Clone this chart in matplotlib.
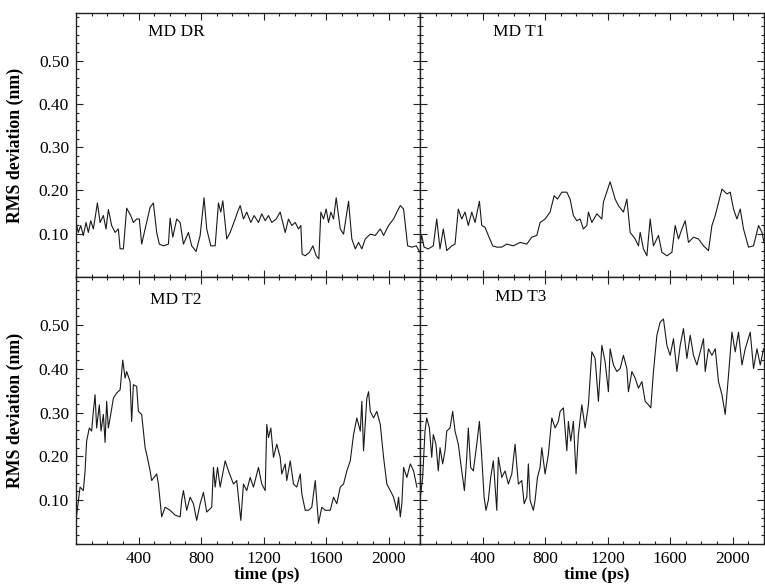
import matplotlib
matplotlib.use("Agg")
import matplotlib.pyplot as plt
from matplotlib.ticker import MultipleLocator, FixedLocator, NullFormatter

plt.rcParams['font.family'] = ['Liberation Serif', 'DejaVu Serif']

# ---------------- data (time in ps, RMS deviation in nm) ----------------
dr_t = [0, 15, 30, 47, 64, 79, 94, 111, 137, 154, 175, 192, 207, 228, 250, 271, 282, 303,
        324, 350, 367, 388, 405, 420, 442, 474, 495, 516, 533, 559, 591, 602, 619, 644, 666,
        687, 719, 740, 768, 794, 819, 836, 862, 890, 911, 926, 939, 964, 986, 1018, 1033,
        1050, 1071, 1092, 1118, 1139, 1167, 1188, 1210, 1231, 1252, 1280, 1306, 1327, 1338,
        1359, 1380, 1402, 1423, 1438, 1446, 1466, 1493, 1515, 1536, 1553, 1566, 1583, 1600,
        1615, 1630, 1647, 1664, 1690, 1711, 1743, 1764, 1786, 1807, 1828, 1850, 1882, 1914,
        1946, 1967, 1999, 2031, 2052, 2074, 2095, 2121, 2148, 2176, 2200]
dr_v = [0.126, 0.103, 0.119, 0.096, 0.126, 0.103, 0.130, 0.111, 0.171, 0.126, 0.142, 0.111,
        0.156, 0.119, 0.103, 0.111, 0.065, 0.065, 0.159, 0.142, 0.126, 0.134, 0.134, 0.076,
        0.111, 0.161, 0.171, 0.103, 0.076, 0.072, 0.076, 0.136, 0.092, 0.134, 0.126, 0.076,
        0.103, 0.072, 0.059, 0.096, 0.183, 0.111, 0.072, 0.072, 0.171, 0.150, 0.176, 0.088,
        0.103, 0.134, 0.150, 0.165, 0.134, 0.150, 0.126, 0.142, 0.126, 0.146, 0.130, 0.142,
        0.126, 0.134, 0.150, 0.119, 0.103, 0.134, 0.119, 0.126, 0.111, 0.119, 0.053, 0.049,
        0.057, 0.072, 0.049, 0.042, 0.150, 0.134, 0.157, 0.126, 0.150, 0.134, 0.183, 0.111,
        0.099, 0.175, 0.088, 0.065, 0.080, 0.065, 0.088, 0.099, 0.096, 0.111, 0.096, 0.119,
        0.134, 0.150, 0.165, 0.157, 0.072, 0.069, 0.072, 0.057]

t1_t = [0, 11, 26, 53, 85, 107, 128, 149, 171, 203, 224, 245, 267, 288, 309, 331, 352, 380,
        395, 416, 437, 465, 491, 523, 555, 597, 640, 683, 715, 747, 768, 800, 832, 858, 879,
        907, 939, 960, 981, 1003, 1024, 1045, 1067, 1077, 1099, 1131, 1163, 1173, 1216, 1248,
        1269, 1301, 1323, 1344, 1376, 1397, 1408, 1429, 1451, 1472, 1493, 1525, 1547, 1579,
        1611, 1632, 1653, 1675, 1696, 1717, 1749, 1781, 1813, 1845, 1867, 1888, 1931, 1963,
        1984, 2005, 2027, 2048, 2069, 2101, 2133, 2165, 2187, 2200]
t1_v = [0.072, 0.096, 0.069, 0.065, 0.072, 0.134, 0.065, 0.111, 0.061, 0.072, 0.076, 0.157,
        0.134, 0.150, 0.119, 0.150, 0.126, 0.175, 0.119, 0.115, 0.096, 0.072, 0.069, 0.069,
        0.076, 0.072, 0.080, 0.076, 0.092, 0.096, 0.126, 0.134, 0.150, 0.188, 0.180, 0.196,
        0.196, 0.180, 0.142, 0.130, 0.134, 0.111, 0.119, 0.150, 0.126, 0.146, 0.134, 0.173,
        0.220, 0.180, 0.165, 0.150, 0.180, 0.103, 0.088, 0.072, 0.103, 0.065, 0.049, 0.134,
        0.072, 0.096, 0.057, 0.049, 0.057, 0.119, 0.088, 0.111, 0.130, 0.080, 0.092, 0.088,
        0.072, 0.061, 0.119, 0.142, 0.203, 0.192, 0.196, 0.157, 0.134, 0.157, 0.111, 0.069,
        0.072, 0.119, 0.103, 0.080]

t2_t = [0, 26, 47, 58, 68, 85, 100, 111, 122, 132, 149, 160, 175, 186, 196, 207, 222, 239,
        260, 282, 299, 314, 324, 346, 356, 367, 388, 399, 420, 442, 452, 474, 484, 516, 527,
        548, 570, 602, 634, 666, 676, 687, 708, 730, 751, 772, 794, 815, 836, 868, 879, 890,
        905, 922, 954, 975, 1007, 1028, 1054, 1071, 1092, 1114, 1135, 1167, 1188, 1210, 1220,
        1231, 1246, 1263, 1284, 1306, 1316, 1338, 1348, 1370, 1391, 1412, 1434, 1444, 1466,
        1487, 1508, 1530, 1551, 1572, 1594, 1626, 1647, 1668, 1690, 1711, 1732, 1754, 1775,
        1796, 1818, 1828, 1839, 1860, 1871, 1882, 1903, 1924, 1946, 1967, 1988, 2010, 2031,
        2052, 2063, 2074, 2084, 2095, 2116, 2138, 2159, 2180]
t2_v = [0.054, 0.130, 0.122, 0.167, 0.235, 0.265, 0.258, 0.303, 0.341, 0.265, 0.318, 0.258,
        0.296, 0.232, 0.326, 0.265, 0.296, 0.333, 0.345, 0.352, 0.420, 0.379, 0.394, 0.371,
        0.280, 0.364, 0.360, 0.303, 0.296, 0.220, 0.205, 0.167, 0.145, 0.160, 0.137, 0.062,
        0.084, 0.077, 0.066, 0.062, 0.100, 0.122, 0.077, 0.107, 0.092, 0.054, 0.092, 0.118,
        0.073, 0.084, 0.175, 0.130, 0.175, 0.130, 0.190, 0.167, 0.137, 0.145, 0.054, 0.137,
        0.122, 0.152, 0.130, 0.175, 0.137, 0.122, 0.273, 0.243, 0.265, 0.198, 0.228, 0.198,
        0.160, 0.183, 0.145, 0.190, 0.137, 0.130, 0.160, 0.115, 0.077, 0.077, 0.084, 0.145,
        0.047, 0.084, 0.077, 0.077, 0.107, 0.092, 0.130, 0.137, 0.167, 0.190, 0.250, 0.288,
        0.258, 0.326, 0.213, 0.333, 0.348, 0.303, 0.288, 0.303, 0.273, 0.198, 0.137, 0.122,
        0.107, 0.077, 0.107, 0.062, 0.092, 0.175, 0.152, 0.183, 0.167, 0.130]

t3_t = [0, 17, 32, 43, 60, 75, 85, 102, 117, 128, 145, 160, 171, 192, 209, 224, 245, 267,
        284, 299, 309, 324, 341, 363, 380, 395, 410, 422, 437, 452, 469, 491, 501, 523, 544,
        565, 587, 608, 629, 651, 666, 683, 693, 704, 725, 736, 751, 768, 779, 800, 821, 843,
        864, 885, 896, 917, 939, 949, 964, 981, 998, 1013, 1035, 1056, 1077, 1099, 1120, 1141,
        1163, 1184, 1205, 1216, 1237, 1259, 1280, 1301, 1323, 1333, 1355, 1376, 1397, 1419,
        1440, 1461, 1476, 1493, 1515, 1536, 1557, 1579, 1600, 1621, 1643, 1664, 1685, 1707,
        1728, 1749, 1771, 1792, 1813, 1824, 1845, 1867, 1888, 1909, 1931, 1952, 1973, 1995,
        2016, 2037, 2059, 2080, 2112, 2133, 2155, 2176, 2197]
t3_v = [0.100, 0.152, 0.258, 0.288, 0.265, 0.198, 0.250, 0.228, 0.167, 0.220, 0.183, 0.213,
        0.258, 0.265, 0.303, 0.258, 0.228, 0.167, 0.122, 0.198, 0.265, 0.175, 0.167, 0.228,
        0.280, 0.198, 0.107, 0.077, 0.100, 0.152, 0.190, 0.077, 0.198, 0.152, 0.167, 0.137,
        0.160, 0.228, 0.137, 0.145, 0.092, 0.107, 0.183, 0.100, 0.077, 0.100, 0.152, 0.175,
        0.220, 0.160, 0.205, 0.288, 0.265, 0.280, 0.303, 0.311, 0.213, 0.280, 0.235, 0.280,
        0.160, 0.250, 0.318, 0.265, 0.318, 0.439, 0.424, 0.326, 0.454, 0.416, 0.348, 0.446,
        0.409, 0.394, 0.401, 0.431, 0.401, 0.348, 0.394, 0.379, 0.356, 0.371, 0.326, 0.318,
        0.311, 0.394, 0.477, 0.507, 0.514, 0.454, 0.431, 0.469, 0.394, 0.454, 0.492, 0.424,
        0.477, 0.431, 0.409, 0.439, 0.469, 0.394, 0.446, 0.431, 0.446, 0.371, 0.341, 0.296,
        0.386, 0.484, 0.439, 0.484, 0.409, 0.446, 0.484, 0.401, 0.446, 0.409, 0.446]

panel_names = ["MD DR", "MD T1", "MD T2", "MD T3"]
y_ticks = [0.10, 0.20, 0.30, 0.40, 0.50]
y_tick_labels = ["0.10", "0.20", "0.30", "0.40", "0.50"]
x_ticks = [400, 800, 1200, 1600, 2000]
x_tick_labels = ["400", "800", "1200", "1600", "2000"]
y_label = "RMS deviation (nm)"
x_label = "time (ps)"

series = [(dr_t, dr_v), (t1_t, t1_v), (t2_t, t2_v), (t3_t, t3_v)]

# ---------------- layout ----------------
W, H = 765, 586
fig = plt.figure(figsize=(W / 100, H / 100), dpi=100)
fig.patch.set_facecolor('white')

xl, xm, xr = 76 / W, 420 / W, 764 / W
yt, ym, yb = 1 - 13 / H, 1 - 277 / H, 1 - 544 / H
rects = [
    (xl, ym, xm - xl, yt - ym),
    (xm, ym, xr - xm, yt - ym),
    (xl, yb, xm - xl, ym - yb),
    (xm, yb, xr - xm, ym - yb),
]
label_pos = [(0.209, 0.928), (0.212, 0.928), (0.215, 0.914), (0.218, 0.925)]

for i, (rect, (tt, vv), name, lp) in enumerate(zip(rects, series, panel_names, label_pos)):
    ax = fig.add_axes(rect)
    ax.plot(tt, vv, color='#1a1a1a', lw=0.8)
    ax.set_xlim(0, 2200)
    ax.set_ylim(0, 0.61)
    for s in ax.spines.values():
        s.set_linewidth(1.0)
        s.set_color('#222222')
    ax.xaxis.set_major_locator(FixedLocator(x_ticks))
    ax.xaxis.set_minor_locator(MultipleLocator(100))
    ax.yaxis.set_major_locator(FixedLocator(y_ticks))
    ax.yaxis.set_minor_locator(MultipleLocator(0.02))
    ax.tick_params(which='both', direction='in', top=True, right=True,
                   bottom=True, left=True, color='#222222', width=0.8)
    ax.tick_params(which='major', length=5)
    ax.tick_params(which='minor', length=2.5)
    ax.tick_params(axis='both', labelsize=12.5, pad=5)
    row, col = divmod(i, 2)
    if row == 1:
        ax.set_xticklabels(x_tick_labels)
        ax.set_xlabel(x_label, fontsize=12.5, fontweight='bold', labelpad=2)
        ax.xaxis.set_label_coords(0.555 if col == 0 else 0.515, -0.085)
    else:
        ax.xaxis.set_major_formatter(NullFormatter())
    if col == 0:
        ax.set_yticklabels(y_tick_labels)
        ax.set_ylabel(y_label, fontsize=12.8, fontweight='bold')
        ax.yaxis.set_label_coords(-0.15, 0.5)
    else:
        ax.yaxis.set_major_formatter(NullFormatter())
    ax.text(lp[0], lp[1], name, transform=ax.transAxes, fontsize=12.5,
            ha='left', va='center')

fig.savefig("out.png", dpi=100, facecolor='white')
